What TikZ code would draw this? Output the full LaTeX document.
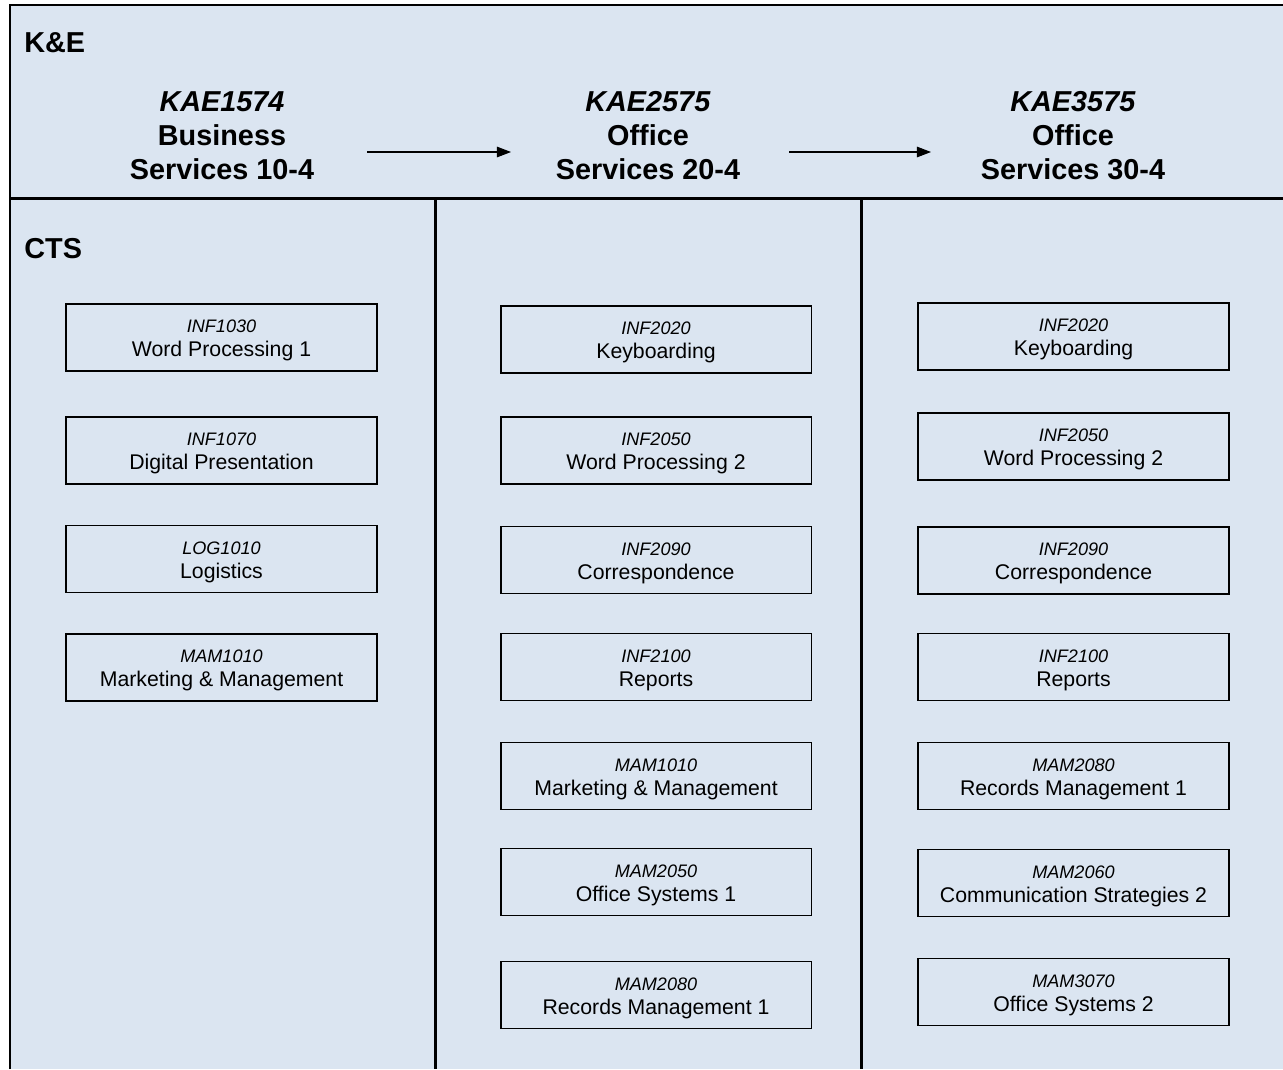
\documentclass[tikz,border=0pt]{standalone}
\usepackage{fontspec}
\setmainfont{Liberation Sans}
\usetikzlibrary{arrows.meta}

\definecolor{panel}{RGB}{219,229,241}
\newcommand{\coursecode}[1]{{\fontsize{10.3pt}{12pt}\selectfont\itshape #1}}

\tikzset{
    frame/.style={line width=1.7pt,black},
    course/.style={draw=black,line width=1.1pt,minimum width=6.22cm,minimum height=1.34cm,
        inner sep=0pt,align=center,text height=21.8pt,text depth=0pt,
        font=\fontsize{12.1pt}{13.6pt}\selectfont},
    title/.style={align=center,font=\fontsize{16.4pt}{19.3pt}\selectfont\bfseries},
    group/.style={anchor=west,inner sep=0pt,font=\fontsize{16.4pt}{19.3pt}\selectfont\bfseries},
    arr/.style={line width=0.6pt,-{Triangle[length=8pt,width=6pt]}}
}

\begin{document}
\begin{tikzpicture}[x=0.02cm,y=-0.02cm]
            \useasboundingbox (0,0) rectangle (1283,1069);
            \fill[panel] (10,5) rectangle (1283,1069);
            \draw[frame] (10,1069) -- (10,5) -- (1283,5);
            \draw[frame] (10,198) -- (1283,198);
            \draw[frame] (435,198) -- (435,1069);
            \draw[frame] (861,198) -- (861,1069);

            \node[group] (ke) at (24,43) {K\&E};
            \node[group] (cts) at (24,249) {CTS};

            \node[title] (h1) at (222,135.5) {\textit{KAE1574}\\Business\\Services 10-4};
            \node[title] (h2) at (648,135.5) {\textit{KAE2575}\\Office\\Services 20-4};
            \node[title] (h3) at (1073,135.5) {\textit{KAE3575}\\Office\\Services 30-4};

            \coordinate (a1) at (367,152);
            \coordinate (b1) at (511,152);
            \coordinate (a2) at (789,152);
            \coordinate (b2) at (931,152);
            \draw[arr] (a1) -- (b1);
            \draw[arr] (a2) -- (b2);

            \foreach \y/\c/\t [count=\i] in {337.5/INF1030/Word Processing 1,
                    450.5/INF1070/Digital Presentation,
                    559/LOG1010/Logistics,
                    667.5/MAM1010/Marketing \& Management}
                \node[course] (c1\i) at (221.5,\y) {\coursecode{\c}\\\t};

            \foreach \y/\c/\t [count=\i] in {339.5/INF2020/Keyboarding,
                    450.5/INF2050/Word Processing 2,
                    560/INF2090/Correspondence,
                    667/INF2100/Reports,
                    776/MAM1010/Marketing \& Management,
                    882/MAM2050/Office Systems 1,
                    995/MAM2080/Records Management 1}
                \node[course] (c2\i) at (656,\y) {\coursecode{\c}\\\t};

            \foreach \y/\c/\t [count=\i] in {336.5/INF2020/Keyboarding,
                    446.5/INF2050/Word Processing 2,
                    560.5/INF2090/Correspondence,
                    667/INF2100/Reports,
                    776/MAM2080/Records Management 1,
                    883/MAM2060/Communication Strategies 2,
                    992/MAM3070/Office Systems 2}
                \node[course] (c3\i) at (1073.5,\y) {\coursecode{\c}\\\t};

        \end{tikzpicture}
\end{document}
